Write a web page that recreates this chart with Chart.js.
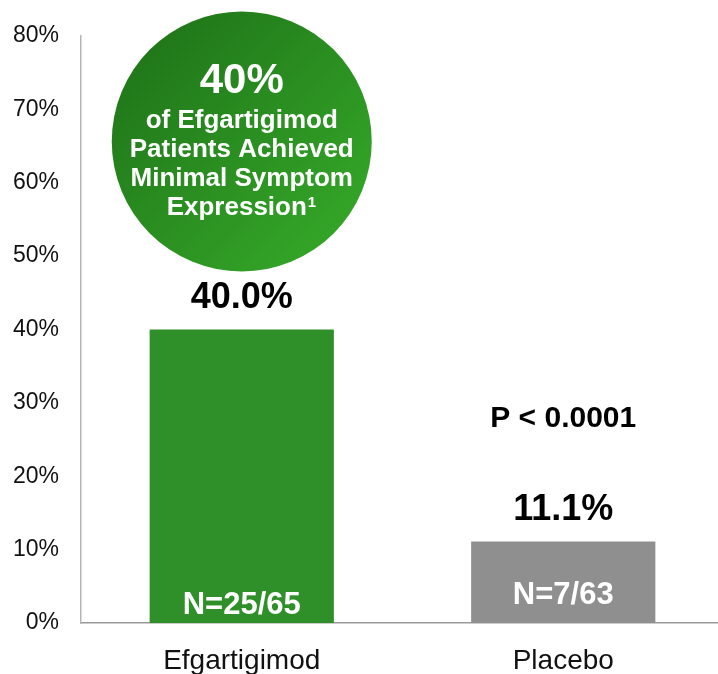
<!DOCTYPE html>
<html>
<head>
<meta charset="utf-8">
<script src="https://cdn.jsdelivr.net/npm/chart.js@4/dist/chart.umd.min.js"></script>
<style>
  html, body { margin: 0; padding: 0; background: #fff; overflow: hidden; }
  #wrap { width: 724px; height: 674px; }
</style>
</head>
<body>
<div id="wrap"><canvas id="mseChart" width="724" height="674"></canvas></div>
<script>
const categories = ['Efgartigimod', 'Placebo'];
const responseRates = [40.0, 11.1];
const valueLabels = ['40.0%', '11.1%'];
const countLabels = ['N=25/65', 'N=7/63'];
const barColors = ['#2f8f29', '#8f8f8f'];
const yTicks = [0, 10, 20, 30, 40, 50, 60, 70, 80];
const pValueText = 'P < 0.0001';
const calloutLines = ['of Efgartigimod', 'Patients Achieved', 'Minimal Symptom', 'Expression'];

const fontFamily = '"Liberation Sans", Arial, sans-serif';

// labels above / inside bars, p-value and the green callout circle
const annotations = {
    id: 'annotations',
    afterDatasetsDraw(chart) {
        const ctx = chart.ctx;
        const xs = chart.scales.x;
        const ys = chart.scales.y;
        const meta = chart.getDatasetMeta(0);
        ctx.save();
        ctx.textAlign = 'center';
        ctx.textBaseline = 'middle';

        meta.data.forEach((bar, i) => {
            ctx.fillStyle = '#000';
            ctx.font = 'bold 36px ' + fontFamily;
            ctx.fillText(valueLabels[i], bar.x, bar.y - 31);
            ctx.fillStyle = '#fff';
            ctx.font = 'bold 31px ' + fontFamily;
            ctx.fillText(countLabels[i], bar.x, i === 0 ? ys.getPixelForValue(0) - 18 : ys.getPixelForValue(0) - 28);
        });

        // p-value
        ctx.fillStyle = '#000';
        ctx.font = 'bold 30px ' + fontFamily;
        ctx.fillText(pValueText, xs.getPixelForValue(1), ys.getPixelForValue(27.8));

        // callout circle
        const cx = xs.getPixelForValue(0);
        const cy = ys.getPixelForValue(65.6);
        const r = 130;
        const grad = ctx.createLinearGradient(cx - r, cy - r, cx + r, cy + r);
        grad.addColorStop(0, '#1d6f17');
        grad.addColorStop(1, '#37ad2a');
        ctx.beginPath();
        ctx.arc(cx, cy, r, 0, Math.PI * 2);
        ctx.fillStyle = grad;
        ctx.fill();

        ctx.fillStyle = '#fff';
        ctx.font = 'bold 42px ' + fontFamily;
        ctx.fillText('40%', cx, cy - 60);
        ctx.font = 'bold 26px ' + fontFamily;
        calloutLines.forEach((line, i) => {
            const y = cy - 21 + i * 29;
            if (i === calloutLines.length - 1) {
                const w = ctx.measureText(line).width;
                ctx.fillText(line, cx - 5, y);
                ctx.font = 'bold 15px ' + fontFamily;
                ctx.textAlign = 'left';
                ctx.fillText('1', cx - 5 + w / 2 + 1, y - 5);
            } else {
                ctx.fillText(line, cx, y);
            }
        });
        ctx.restore();
    }
};

new Chart(document.getElementById('mseChart'), {
    type: 'bar',
    data: {
        labels: categories,
        datasets: [{
            data: responseRates,
            backgroundColor: barColors,
            categoryPercentage: 1,
            barPercentage: 0.573,
        }],
    },
    options: {
        responsive: false,
        animation: false,
        layout: { padding: { top: 33, right: 0, left: 0, bottom: 0 } },
        plugins: {
            legend: { display: false },
            tooltip: { enabled: false },
        },
        scales: {
            x: {
                grid: { display: false, drawTicks: false },
                border: { color: '#999', width: 1.5 },
                ticks: {
                    color: '#111',
                    padding: 21,
                    font: { family: fontFamily, size: 28 },
                },
                afterFit: scale => { scale.height = 51; },
            },
            y: {
                min: 0,
                max: 80,
                grid: { display: false, drawTicks: false },
                border: { color: '#b5b5b5', width: 1.5 },
                afterBuildTicks: scale => { scale.ticks = yTicks.map(v => ({ value: v })); },
                ticks: {
                    color: '#111',
                    padding: 22,
                    font: { family: fontFamily, size: 23 },
                    callback: v => v + '%',
                },
                afterFit: scale => { scale.width = 81; },
            },
        },
    },
    plugins: [annotations],
});
</script>
</body>
</html>
